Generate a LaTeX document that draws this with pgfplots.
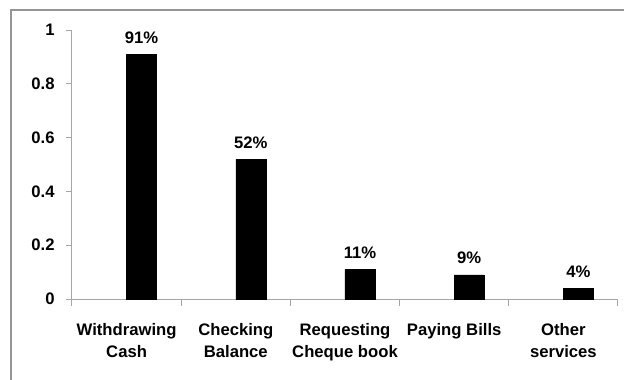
\documentclass[border=0pt]{standalone}
\usepackage{pgfplots}
\pgfplotsset{compat=1.18}
\usepackage{fontspec}
\setmainfont{Liberation Sans}
\definecolor{axgray}{RGB}{165,165,165}
\definecolor{framegray}{RGB}{150,150,150}
\begin{document}
\begin{tikzpicture}
\begin{axis}[
  scale only axis, width=409.5pt, height=201.75pt,
  at={(0,0)}, anchor=south west,
  xmin=-0.5, xmax=4.5, ymin=0, ymax=1,
  axis x line=bottom, axis y line=left,
  axis line style={axgray, -, line width=0.75pt},
  xtick={0,1,2,3,4},
  xticklabels={Withdrawing\\Cash, Checking\\Balance, Requesting\\Cheque book, Paying Bills, Other\\services},
  major x tick style={draw=none},
  minor xtick={-0.5,0.5,1.5,2.5,3.5,4.5},
  minor tick length=5.25pt,
  minor x tick style={axgray, line width=0.75pt},
  xtick align=outside,
  ytick={0,0.2,0.4,0.6,0.8,1},
  yticklabels={0,0.2,0.4,0.6,0.8,1},
  ytick align=outside,
  major tick length=4.5pt,
  y tick style={axgray, line width=0.75pt},
  xticklabel style={align=center, font=\bfseries\fontsize{12.5}{17}\selectfont, yshift=-10pt},
  yticklabel style={font=\bfseries\fontsize{12.5}{14}\selectfont, xshift=-5pt},
  ybar, bar width=0.275, bar shift=0,
  nodes near coords,
  point meta=explicit symbolic,
  nodes near coords style={font=\bfseries\fontsize{12.5}{14}\selectfont, yshift=4.5pt},
  clip=false,
]
\addplot[fill=black, draw=black] coordinates {
  (0.1375,0.91) [91\%]
  (1.1375,0.52) [52\%]
  (2.1375,0.11) [11\%]
  (3.1375,0.09) [9\%]
  (4.1375,0.04) [4\%]
};
\end{axis}
\draw[framegray, line width=1.5pt] (-45.4pt,-80pt) -- (-45.4pt,217.1pt) -- (430pt,217.1pt);
\pgfresetboundingbox
\useasboundingbox (-54pt,-60pt) rectangle (414pt,224.25pt);
\end{tikzpicture}
\end{document}
